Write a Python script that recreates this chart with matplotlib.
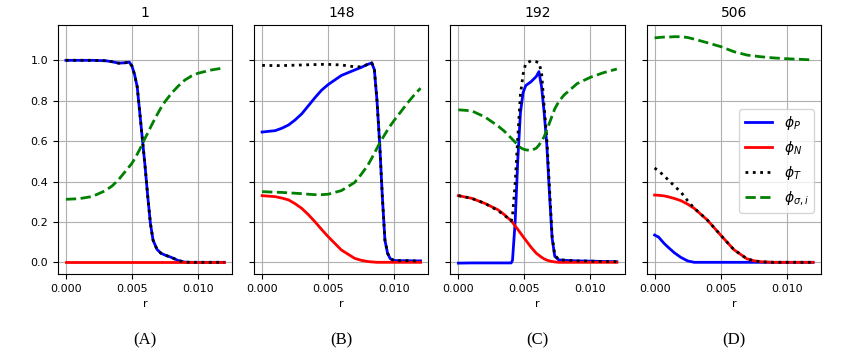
import matplotlib
matplotlib.use("Agg")
import matplotlib.pyplot as plt

# panel titles and captions
titles = ["1", "148", "192", "506"]
captions = ["(A)", "(B)", "(C)", "(D)"]
labels = [r"$\phi_P$", r"$\phi_N$", r"$\phi_T$", r"$\phi_{\sigma,i}$"]

# (A) step 1
rA = [0, 0.001, 0.002, 0.003, 0.0035, 0.004, 0.0045, 0.0048, 0.005, 0.0052, 0.0054, 0.0056, 0.0058, 0.006,
      0.0062, 0.0064, 0.0066, 0.0069, 0.0072, 0.0075, 0.008, 0.0085, 0.009, 0.0095, 0.010, 0.011, 0.012]
P_A = [1.0, 1.0, 1.0, 0.998, 0.993, 0.986, 0.988, 0.991, 0.972, 0.93, 0.869, 0.738, 0.605, 0.473,
       0.325, 0.193, 0.11, 0.064, 0.045, 0.036, 0.024, 0.009, 0.001, 0, 0, 0, 0]
N_A = [0.0] * len(rA)
T_A = P_A  # total sits on top of phi_P here
G_A = [0.312, 0.315, 0.326, 0.355, 0.378, 0.41, 0.45, 0.474, 0.49, 0.512, 0.535, 0.56, 0.588, 0.615,
       0.64, 0.667, 0.693, 0.73, 0.765, 0.795, 0.837, 0.872, 0.902, 0.922, 0.936, 0.952, 0.963]

# (B) step 148
rB = [0, 0.001, 0.0015, 0.002, 0.0025, 0.003, 0.0035, 0.004, 0.0045, 0.005, 0.006, 0.007, 0.0075, 0.008,
      0.0083, 0.0085, 0.0087, 0.0089, 0.0091, 0.0093, 0.0095, 0.0097, 0.010, 0.0105, 0.011, 0.0115, 0.012]
P_B = [0.645, 0.652, 0.664, 0.68, 0.705, 0.735, 0.775, 0.815, 0.852, 0.88, 0.925, 0.952, 0.965, 0.98,
       0.987, 0.954, 0.80, 0.59, 0.33, 0.11, 0.045, 0.018, 0.009, 0.008, 0.008, 0.007, 0.007]
N_B = [0.33, 0.325, 0.318, 0.309, 0.29, 0.267, 0.236, 0.201, 0.163, 0.127, 0.061, 0.02, 0.01, 0.004,
       0.002, 0.001, 0, 0, 0, 0, 0, 0, 0, 0, 0, 0, 0]
T_B = [0.975, 0.974, 0.974, 0.975, 0.976, 0.977, 0.978, 0.979, 0.98, 0.98, 0.977, 0.968, 0.968, 0.98,
       0.988, 0.955, 0.80, 0.59, 0.33, 0.11, 0.045, 0.018, 0.009, 0.008, 0.008, 0.007, 0.007]
G_B = [0.35, 0.347, 0.346, 0.344, 0.342, 0.34, 0.337, 0.335, 0.335, 0.337, 0.355, 0.395, 0.435, 0.48,
       0.515, 0.54, 0.565, 0.59, 0.612, 0.634, 0.655, 0.675, 0.703, 0.745, 0.788, 0.827, 0.862]

# (C) step 192
rC = [0, 0.001, 0.002, 0.003, 0.0035, 0.004, 0.0041, 0.0043, 0.0045, 0.0047, 0.0049, 0.0051, 0.0055, 0.0059,
      0.0061, 0.0063, 0.0065, 0.0067, 0.0069, 0.0071, 0.0073, 0.0076, 0.008, 0.009, 0.010, 0.011, 0.012]
P_C = [-0.004, -0.003, -0.003, -0.003, -0.003, -0.003, 0.01, 0.2, 0.507, 0.74, 0.84, 0.875, 0.894, 0.92,
       0.944, 0.87, 0.74, 0.58, 0.34, 0.12, 0.03, 0.012, 0.01, 0.007, 0.006, 0.004, 0.003]
N_C = [0.33, 0.317, 0.292, 0.26, 0.235, 0.205, 0.198, 0.18, 0.163, 0.145, 0.127, 0.11, 0.075, 0.045,
       0.035, 0.025, 0.017, 0.011, 0.007, 0.004, 0.002, 0, 0, 0, 0, 0, 0]
T_C = [0.33, 0.317, 0.292, 0.256, 0.232, 0.205, 0.23, 0.39, 0.62, 0.83, 0.93, 0.985, 0.997, 0.993,
       0.988, 0.94, 0.77, 0.61, 0.37, 0.13, 0.035, 0.015, 0.011, 0.007, 0.006, 0.004, 0.003]
G_C = [0.755, 0.75, 0.72, 0.675, 0.648, 0.615, 0.608, 0.595, 0.58, 0.568, 0.561, 0.557, 0.553, 0.565,
       0.58, 0.6, 0.622, 0.655, 0.69, 0.725, 0.76, 0.795, 0.828, 0.885, 0.916, 0.939, 0.957]

# (D) step 506
rD = [0, 0.0003, 0.0007, 0.001, 0.0015, 0.002, 0.0025, 0.003, 0.004, 0.005, 0.006, 0.007, 0.0075,
      0.008, 0.009, 0.010, 0.011, 0.012]
P_D = [0.135, 0.125, 0.095, 0.076, 0.047, 0.024, 0.007, 0.0, 0, 0, 0, 0, 0, 0, 0, 0, 0, 0]
N_D = [0.333, 0.332, 0.329, 0.325, 0.316, 0.305, 0.288, 0.267, 0.209, 0.135, 0.063, 0.017, 0.008,
       0.003, 0, 0, 0, 0]
T_D = [0.467, 0.452, 0.43, 0.41, 0.378, 0.347, 0.305, 0.268, 0.209, 0.135, 0.063, 0.017, 0.008,
       0.003, 0, 0, 0, 0]
G_D = [1.111, 1.113, 1.115, 1.115, 1.117, 1.117, 1.113, 1.105, 1.087, 1.068, 1.043, 1.026, 1.022,
       1.018, 1.012, 1.008, 1.005, 1.002]

panels = [(rA, P_A, N_A, T_A, G_A), (rB, P_B, N_B, T_B, G_B),
          (rC, P_C, N_C, T_C, G_C), (rD, P_D, N_D, T_D, G_D)]

fig, axs = plt.subplots(1, 4, figsize=(8.44, 3.62), dpi=100, sharey=True)
fig.subplots_adjust(left=0.0687, right=0.9727, bottom=0.243, top=0.931, wspace=0.126)

for ax, (r, p, n, t, g), title, cap in zip(axs, panels, titles, captions):
    ax.plot(r, p, color="b", lw=2, label=labels[0])
    ax.plot(r, n, color="r", lw=2, label=labels[1])
    ax.plot(r, t, color="k", ls=":", lw=2, label=labels[2])
    ax.plot(r, g, color="g", ls="--", lw=2, label=labels[3])
    ax.set_title(title, fontsize=10)
    ax.set_xlabel("r", fontsize=8)
    ax.set_xticks([0, 0.005, 0.010])
    ax.set_xticklabels(["0.000", "0.005", "0.010"])
    ax.tick_params(labelsize=8)
    ax.grid(True)
    box = ax.get_position()
    fig.text((box.x0 + box.x1) / 2, 0.06, cap, ha="center", va="center",
             family="Liberation Serif", fontsize=12)

axs[0].set_ylim(-0.058, 1.175)
axs[0].set_yticks([0, 0.2, 0.4, 0.6, 0.8, 1.0])
axs[3].legend(loc="center right", bbox_to_anchor=(1.0, 0.455), fontsize=10)

fig.savefig("out.png", dpi=100)
